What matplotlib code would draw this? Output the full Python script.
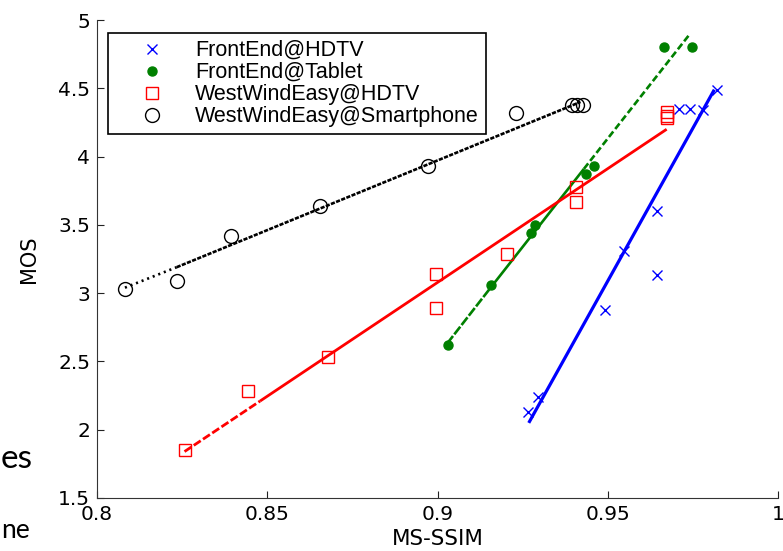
import matplotlib
matplotlib.use("Agg")
import matplotlib.pyplot as plt
import numpy as np

plt.rcParams['lines.scale_dashes'] = False

# ---------------- data ----------------
fe_hdtv_x = [0.9267, 0.9295, 0.9492, 0.9548, 0.9646, 0.9646, 0.9710, 0.9741, 0.9781, 0.9821]
fe_hdtv_y = [2.13, 2.24, 2.88, 3.31, 3.60, 3.13, 4.35, 4.35, 4.34, 4.49]

fe_tab_x = [0.9030, 0.9156, 0.9274, 0.9285, 0.9435, 0.9460, 0.9666, 0.9746]
fe_tab_y = [2.62, 3.06, 3.44, 3.50, 3.87, 3.93, 4.80, 4.80]

ww_hdtv_x = [0.8257, 0.8443, 0.8679, 0.8996, 0.8996, 0.9203, 0.9406, 0.9406, 0.9673, 0.9673, 0.9673]
ww_hdtv_y = [1.85, 2.28, 2.53, 3.14, 2.89, 3.29, 3.78, 3.67, 4.33, 4.30, 4.28]

ww_phone_x = [0.8082, 0.8234, 0.8394, 0.8656, 0.8973, 0.9232, 0.9396, 0.9411, 0.9426]
ww_phone_y = [3.03, 3.09, 3.42, 3.64, 3.93, 4.32, 4.38, 4.38, 4.38]

# fitted lines (knots)
fe_hdtv_fit_x = [0.9268, 0.9813]
fe_hdtv_fit_y = [2.05, 4.49]
fe_tab_fit_x = [0.9028, 0.9156, 0.9430, 0.9742]
fe_tab_fit_y = [2.63, 3.04, 3.91, 4.90]
ww_hdtv_fit_x = [0.8257, 0.8479, 0.9673]
ww_hdtv_fit_y = [1.84, 2.21, 4.20]
ww_phone_fit_x = [0.8082, 0.8234, 0.9420]
ww_phone_fit_y = [3.04, 3.19, 4.40]

labels = ['FrontEnd@HDTV', 'FrontEnd@Tablet', 'WestWindEasy@HDTV', 'WestWindEasy@Smartphone']
xticks = [0.8, 0.85, 0.9, 0.95, 1.0]
xticklabels = ['0.8', '0.85', '0.9', '0.95', '1']
yticks = [1.5, 2, 2.5, 3, 3.5, 4, 4.5, 5]
yticklabels = ['1.5', '2', '2.5', '3', '3.5', '4', '4.5', '5']

green = (0, 0.5, 0)

fig = plt.figure(figsize=(7.83, 5.51), dpi=100)
ax = fig.add_axes([0.1239, 0.0962, 0.8697, 0.8675])


def seg_line(xs, ys, styles, color, lw):
    # each piece drawn on its own so the dash pattern starts fresh (like matlab)
    for i in range(len(xs) - 1):
        ax.plot(xs[i:i + 2], ys[i:i + 2], color=color, lw=lw, linestyle=styles[i],
                solid_capstyle='butt', dash_capstyle='butt')


seg_line(fe_hdtv_fit_x, fe_hdtv_fit_y, ['-'], 'blue', 2.3)
seg_line(fe_tab_fit_x, fe_tab_fit_y, [(0, (7, 1.5)), '-', (0, (5, 2.3))], green, 1.9)
seg_line(ww_hdtv_fit_x, ww_hdtv_fit_y, [(0, (6, 2)), '-'], 'red', 2.0)
seg_line(ww_phone_fit_x, ww_phone_fit_y, [(0, (1.5, 2.8)), (0, (3, 1))], 'black', 1.9)

h1, = ax.plot(fe_hdtv_x, fe_hdtv_y, 'x', color='blue', ms=6.5, mew=1.0, label=labels[0])
h2, = ax.plot(fe_tab_x, fe_tab_y, 'o', color=green, ms=6.5, label=labels[1])
h3, = ax.plot(ww_hdtv_x, ww_hdtv_y, 's', mfc='none', mec='red', ms=8, mew=1.0, label=labels[2])
h4, = ax.plot(ww_phone_x, ww_phone_y, 'o', mfc='none', mec='black', ms=10, mew=1.0, label=labels[3])

ax.set_xlim(0.8, 1.0)
ax.set_ylim(1.5, 5)
ax.set_xticks(xticks)
ax.set_xticklabels(xticklabels)
ax.set_yticks(yticks)
ax.set_yticklabels(yticklabels)
ax.tick_params(direction='in', length=5, width=0.8, labelsize=14.5, colors='#222222',
               labelcolor='black')
ax.tick_params(axis='x', pad=5)
ax.tick_params(axis='y', pad=5)
for lab in ax.get_xticklabels() + ax.get_yticklabels():
    lab.set_fontfamily('DejaVu Sans')

ax.spines['top'].set_visible(False)
ax.spines['right'].set_visible(False)
ax.spines['left'].set_color('#333333')
ax.spines['bottom'].set_color('#333333')

ax.set_xlabel('MS-SSIM', fontsize=15.5, family='DejaVu Sans', labelpad=4)
ax.set_ylabel('MOS', fontsize=15, family='DejaVu Sans', labelpad=14)

leg = ax.legend(handles=[h1, h2, h3, h4], loc='upper left', bbox_to_anchor=(0.0162, 0.9728),
                borderaxespad=0, numpoints=1, fancybox=False, framealpha=1, edgecolor='black',
                prop={'family': 'Liberation Sans', 'size': 15.5}, borderpad=0.33,
                handlelength=3.44, handletextpad=0.28, labelspacing=0.05)
leg.get_frame().set_linewidth(1.2)

# bits of slide text peeking in on the left
fig.text(1 / 783, 1 - 468 / 551, 'es', ha='left', va='baseline', fontsize=24, family='Lato')
fig.text(1 / 783, 1 - 538 / 551, 'ne', ha='left', va='baseline', fontsize=19, family='Lato')

fig.savefig('out.png', dpi=100)
